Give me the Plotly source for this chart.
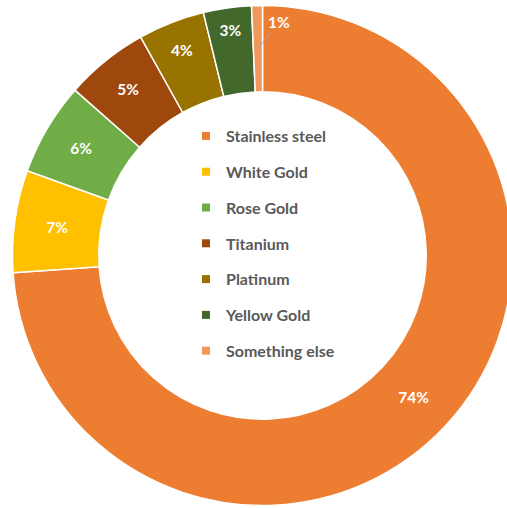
import plotly.graph_objects as go

# Share of responses by watch case material
materials = ["Stainless steel", "White Gold", "Rose Gold", "Titanium",
             "Platinum", "Yellow Gold", "Something else"]
shares = [73.9, 6.6, 6.0, 5.4, 4.3, 3.1, 0.7]
colors = ["#ED7D31", "#FFC000", "#70AD47", "#9E480E",
          "#997300", "#43682B", "#F1975A"]

W, H = 520, 508
FONT = "Lato"

# small slices get their label outside the ring, with a leader line
small = [s / sum(shares) < 0.01 for s in shares]
texttemplate = ["" if sm else "%{percent:.0%}" for sm in small]

fig = go.Figure()
fig.add_trace(go.Pie(
    labels=materials,
    values=shares,
    sort=False,
    direction="clockwise",
    rotation=0,
    hole=0.655,
    marker=dict(colors=colors, line=dict(color="white", width=1.5)),
    texttemplate=texttemplate,
    textposition="inside",
    insidetextorientation="horizontal",
    textfont=dict(family=FONT, size=15.5, color="white", weight="bold"),
    showlegend=False,
    domain=dict(x=[12.5 / W, 512.5 / W], y=[2.5 / H, 502.5 / H]),
))

# legend entries, one group per material so the rows can be spaced out
for name, col in zip(materials, colors):
    fig.add_trace(go.Scatter(
        x=[None], y=[None], mode="markers", name=name, legendgroup=name,
        marker=dict(symbol="square", size=8, color=col),
    ))

# label for the thin slice next to the top
total = sum(shares)
for i, sm in enumerate(small):
    if sm:
        fig.add_annotation(
            x=258.5 / W, y=1 - 48 / H, xref="paper", yref="paper",
            text=f"{round(shares[i] / total * 100)}%",
            showarrow=True, arrowhead=0, arrowwidth=1, arrowcolor="#A6A6A6",
            ax=20, ay=-26,
            font=dict(family=FONT, size=15.5, color="white", weight="bold"),
        )

fig.update_layout(
    width=W, height=H,
    margin=dict(l=0, r=0, t=0, b=0),
    paper_bgcolor="white", plot_bgcolor="white",
    xaxis=dict(visible=False), yaxis=dict(visible=False),
    legend=dict(
        x=186 / W, y=1 - 119 / H, xanchor="left", yanchor="top",
        font=dict(family=FONT, size=16, color="#595959", weight="bold"),
        tracegroupgap=12, itemwidth=30, bgcolor="rgba(0,0,0,0)",
    ),
)

fig.write_html(
    "out.html",
    post_script="document.documentElement.style.overflow='hidden';"
                "document.body.style.overflow='hidden';"
                "document.body.style.margin='0';",
)
